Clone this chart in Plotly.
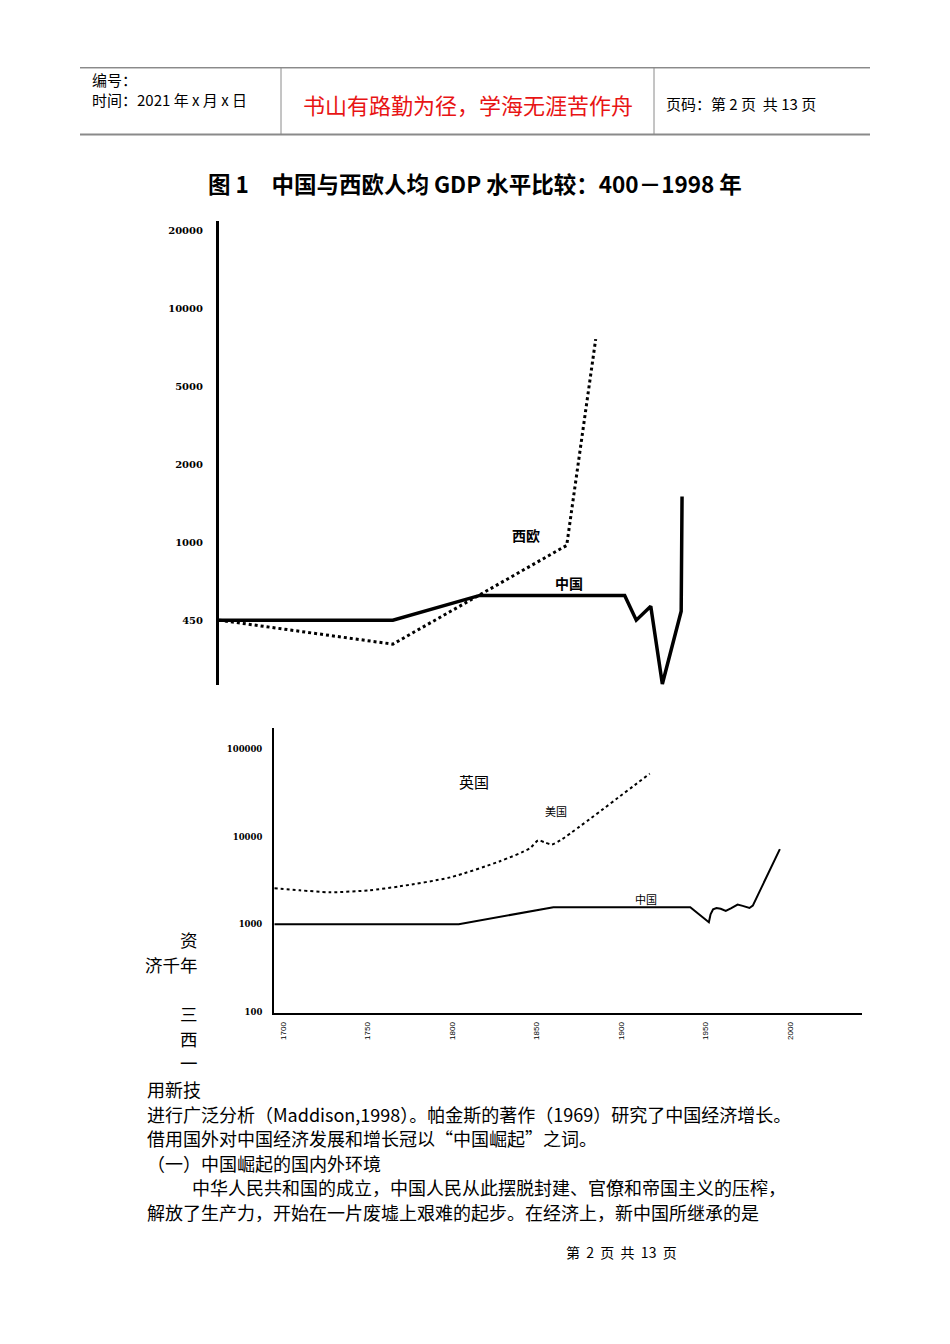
import numpy as np
import plotly.graph_objects as go

# page is 950x1344; the browser body adds an 8px margin, so the figure is
# drawn 8px smaller on each side and every coordinate is shifted by 8px.
W, H = 950, 1344
OFF = 8
FW, FH = W - 2 * OFF, H - 2 * OFF
CJK = "Noto Sans CJK SC"


def px(x):
    return (x - OFF) / FW


def py(y):
    return 1 - (y - OFF) / FH


# ---------------- data: top chart (400-1998) ----------------
top_levels = [450, 1000, 2000, 5000, 10000, 20000]
top_tick_text = ["450", "1000", "2000", "5000", "10000", "20000"]
china_top_years = [400, 1000, 1300, 1800, 1840, 1890, 1930, 1995, 1998]
china_top_gdp = [450, 450, 580, 580, 450, 519, 234, 493, 1500]
weu_years = [400, 1000, 1600, 1700]
weu_gdp = [450, 352, 968, 7600]

# ---------------- data: bottom chart (1700-2000) ----------------
bottom_ticks = [100, 1000, 10000, 100000]
bottom_tick_text = ["100", "1000", "10000", "100000"]
year_ticks = [1700, 1750, 1800, 1850, 1900, 1950, 2000]
ukus_years = [1695, 1710, 1728, 1751, 1769, 1799, 1828, 1846, 1851, 1855, 1859, 1864, 1917]
ukus_gdp = [2575, 2443, 2318, 2443, 2711, 3436, 5222, 7364, 9080, 8610, 8165, 9080, 52700]
china_bot_years = [1695, 1804, 1860, 1941, 1952, 1953, 1954.5, 1956.5, 1959, 1962,
                   1965, 1969, 1972, 1976, 1978, 1994]
china_bot_gdp = [1000, 1000, 1563, 1563, 1054, 1300, 1480, 1534, 1500, 1420,
                 1520, 1678, 1620, 1534, 1634, 7225]

# ---------------- page texts ----------------
body_lines = [
    "用新技",
    "进行广泛分析（Maddison,1998）。帕金斯的著作（1969）研究了中国经济增长。",
    "借用国外对中国经济发展和增长冠以“中国崛起”之词。",
    "（一）中国崛起的国内外环境",
    "中华人民共和国的成立，中国人民从此摆脱封建、官僚和帝国主义的压榨，",
    "解放了生产力，开始在一片废墟上艰难的起步。在经济上，新中国所继承的是",
]
body_y = [1092, 1117, 1141, 1166, 1191, 1216]
body_x = [145, 145, 145, 145, 190, 145]
side_lines = ["资", "济千年", "三", "西", "一"]
side_y = [942, 967, 1017, 1042, 1066]
header_left = ["编号：", "时间：2021 年 x 月 x 日"]


def to_level(v):
    """Map GDP values onto the equally spaced (piecewise-log) scale of chart 1."""
    lv = np.log(np.asarray(v, float))
    ll = np.log(top_levels)
    out = np.interp(lv, ll, np.arange(len(top_levels)))
    below = lv < ll[0]
    out[below] = (lv[below] - ll[0]) / (ll[1] - ll[0])
    return out


fig = go.Figure()

fig.add_trace(go.Scatter(x=china_top_years, y=to_level(china_top_gdp), mode="lines",
                         line=dict(color="black", width=3.5), xaxis="x", yaxis="y",
                         showlegend=False, hoverinfo="skip"))
fig.add_trace(go.Scatter(x=weu_years, y=to_level(weu_gdp), mode="lines",
                         line=dict(color="black", width=3, dash="dot"), xaxis="x", yaxis="y",
                         showlegend=False, hoverinfo="skip"))

fig.add_trace(go.Scatter(x=ukus_years, y=ukus_gdp, mode="lines",
                         line=dict(color="black", width=2, dash="dot", shape="spline", smoothing=0.7),
                         xaxis="x2", yaxis="y2", showlegend=False, hoverinfo="skip"))
fig.add_trace(go.Scatter(x=china_bot_years, y=china_bot_gdp, mode="lines",
                         line=dict(color="black", width=2),
                         xaxis="x2", yaxis="y2", showlegend=False, hoverinfo="skip"))

annots = []


def txt(x, y, s, size, anchor="left", color="black", family=CJK, weight="normal"):
    annots.append(dict(x=px(x), y=py(y), xref="paper", yref="paper", text=s,
                       showarrow=False, xanchor=anchor, yanchor="middle",
                       align=anchor if anchor != "center" else "center",
                       font=dict(family=family, size=size, color=color, weight=weight)))


# header
txt(90, 89.5, "<br>".join(header_left), 15)
txt(468, 104, "书山有路勤为径，学海无涯苦作舟", 22, anchor="center", color="rgb(232,20,20)")
txt(664, 104, "页码：第 2 页  共 13 页", 15)

# title
txt(475, 184, "图 1　中国与西欧人均 GDP 水平比较：400－1998 年", 22.5, anchor="center", weight="bold")

# chart 1 labels
txt(526, 537, "西欧", 14, anchor="center", weight="bold")
txt(569, 585, "中国", 14, anchor="center", weight="bold")

# chart 2 labels
txt(474, 784, "英国", 15, anchor="center")
txt(556, 813, "美国", 11, anchor="center")
txt(646, 902, "中国", 11, anchor="center")

# left fragments
for s, yy in zip(side_lines, side_y):
    txt(200, yy, s, 17.5, anchor="right")

# body text
for s, yy, xx in zip(body_lines, body_y, body_x):
    txt(xx, yy, s, 18)

txt(621, 1256, "第  2  页  共  13  页", 14, anchor="center")

shapes = [
    dict(type="line", xref="paper", yref="paper", x0=px(80), x1=px(870), y0=py(68), y1=py(68),
         line=dict(color="#555555", width=1)),
    dict(type="line", xref="paper", yref="paper", x0=px(80), x1=px(870), y0=py(135), y1=py(135),
         line=dict(color="#8a8a8a", width=2)),
    dict(type="line", xref="paper", yref="paper", x0=px(281), x1=px(281), y0=py(68), y1=py(135),
         line=dict(color="#8a8a8a", width=1)),
    dict(type="line", xref="paper", yref="paper", x0=px(654), x1=px(654), y0=py(68), y1=py(135),
         line=dict(color="#8a8a8a", width=1)),
]

fig.update_layout(
    width=FW, height=FH, margin=dict(l=0, r=0, t=0, b=0),
    paper_bgcolor="white", plot_bgcolor="white",
    showlegend=False,
    annotations=annots, shapes=shapes,
    xaxis=dict(domain=[px(219), px(760)], range=[400, 2267], visible=False, anchor="y"),
    yaxis=dict(domain=[py(687), py(222)], range=[-0.831, 5.115], anchor="x",
               tickvals=list(range(len(top_levels))), ticktext=top_tick_text,
               showline=True, linewidth=3, linecolor="black", showgrid=False, zeroline=False,
               ticks="", ticklabelstandoff=11,
               tickfont=dict(family="DejaVu Serif", size=10, color="black", weight="bold")),
    xaxis2=dict(domain=[px(274), px(862)], range=[1694.7, 2042.6], anchor="y2",
                tickvals=year_ticks, tickangle=-90, showline=True, linewidth=2, linecolor="black",
                showgrid=False, zeroline=False, ticks="", ticklabelstandoff=4,
                tickfont=dict(family="Liberation Sans", size=8, color="black")),
    yaxis2=dict(domain=[py(1016), py(730)], type="log", range=[1.985, 5.246], anchor="x2",
                tickvals=bottom_ticks, ticktext=bottom_tick_text,
                showline=True, linewidth=2, linecolor="black", showgrid=False, zeroline=False,
                ticks="", ticklabelstandoff=8,
                tickfont=dict(family="DejaVu Serif", size=8.5, color="black", weight="bold")),
)

fig.write_html("out.html")
